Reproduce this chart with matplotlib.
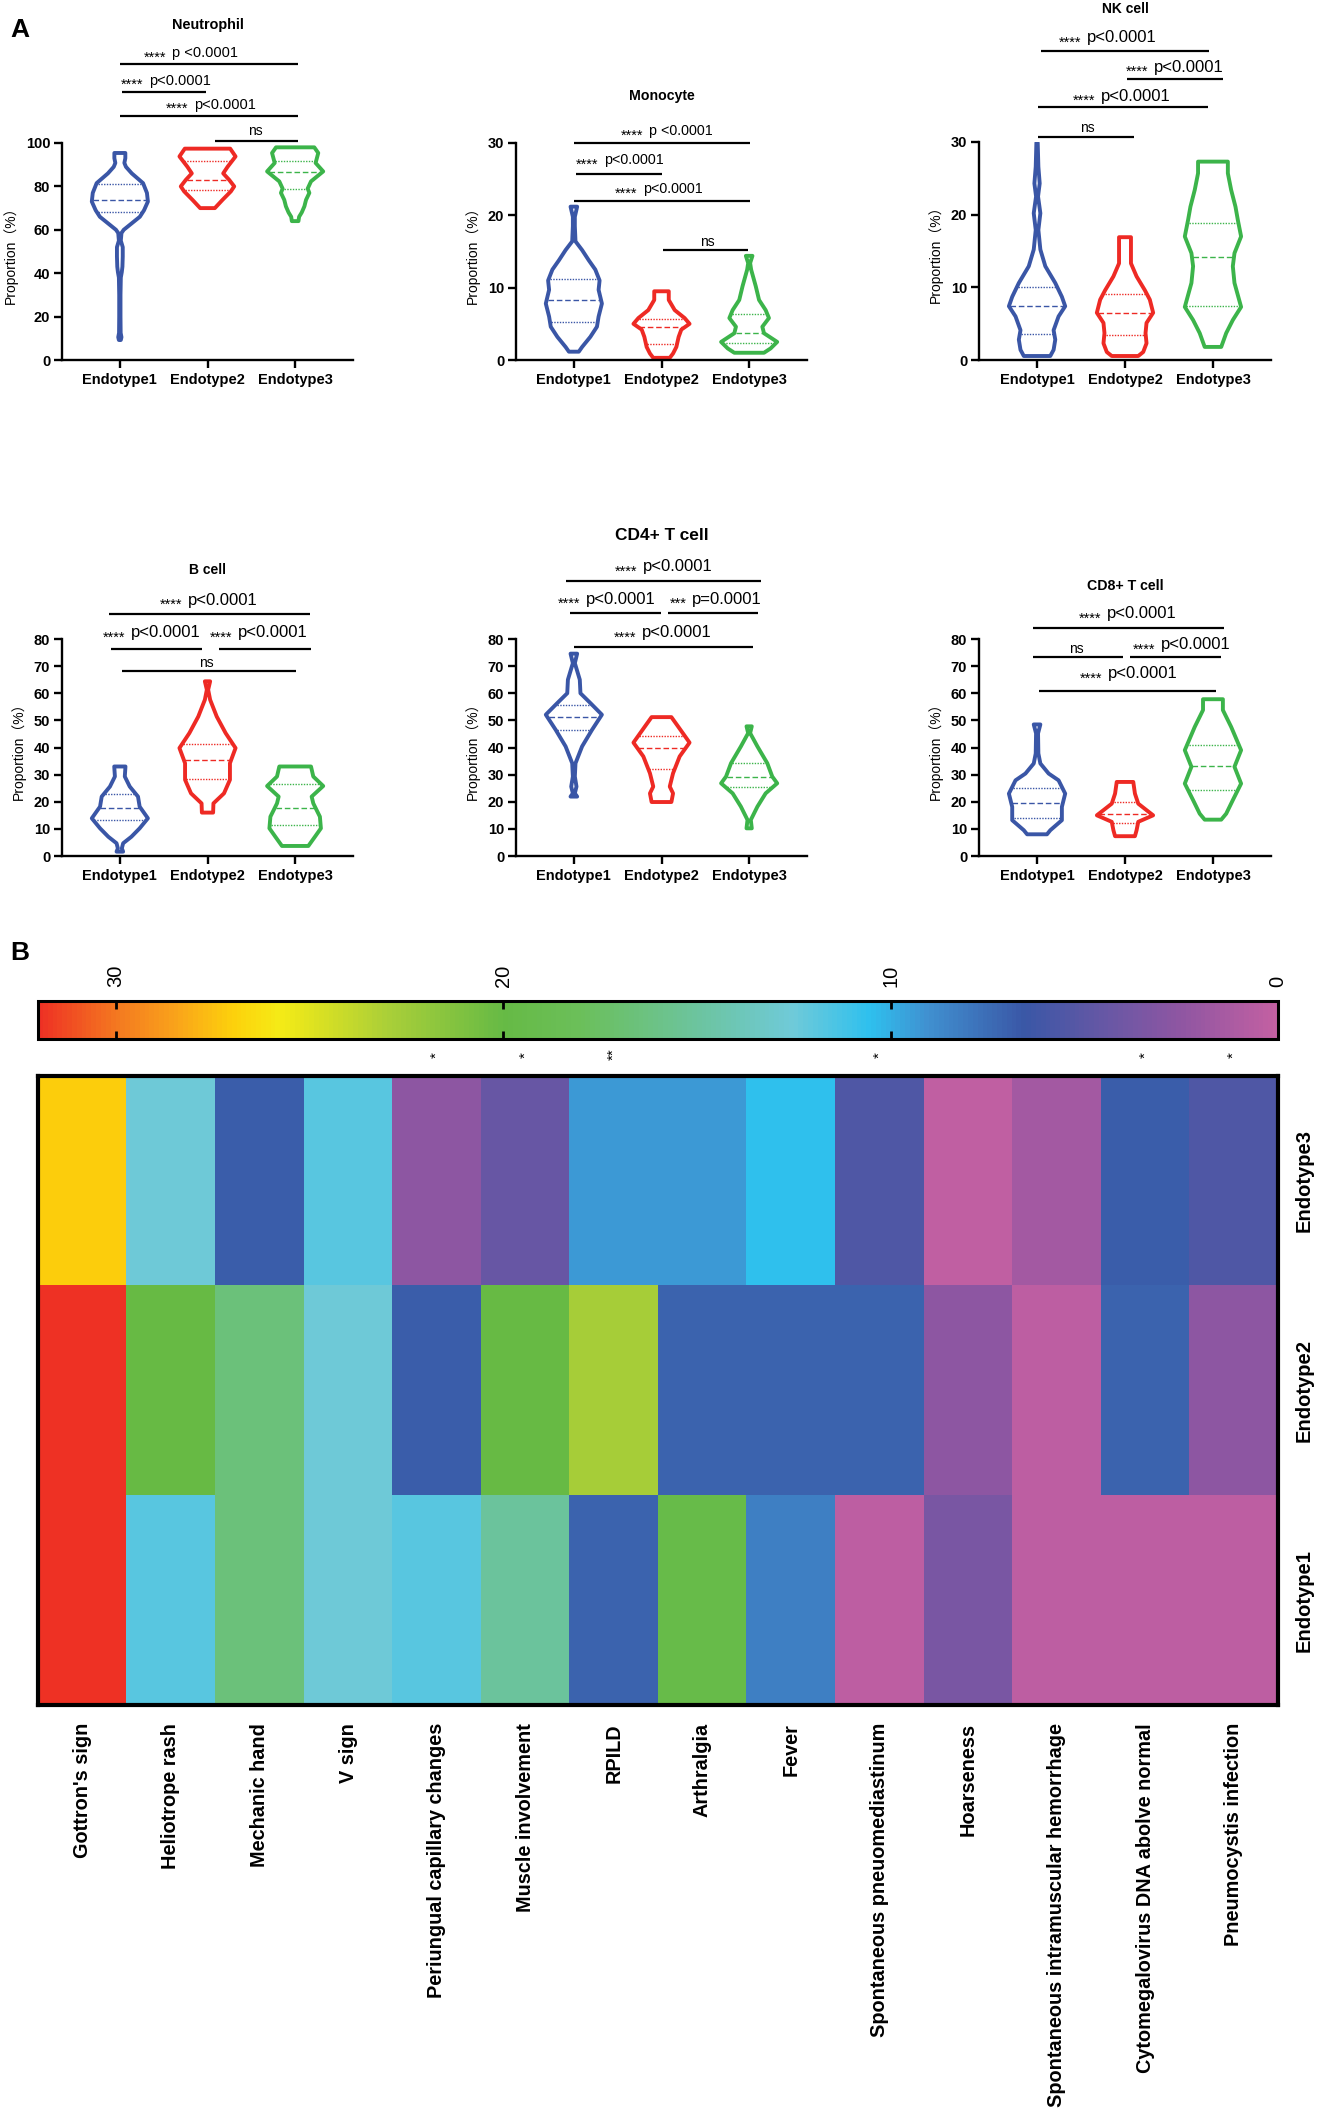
import numpy as np
import matplotlib
matplotlib.use('Agg')
import matplotlib.pyplot as plt
import matplotlib.transforms as mtransforms
from matplotlib.colors import LinearSegmentedColormap, Normalize
from matplotlib.cm import ScalarMappable

plt.rcParams['font.family'] = ['Liberation Sans', 'Noto Sans CJK SC', 'DejaVu Sans']

# ---------------------------------------------------------------- data
GROUPS = ['Endotype1', 'Endotype2', 'Endotype3']
COLORS = ['#3A56A6', '#EE2A24', '#3CB44A']

# violin profiles: y-levels and relative half-widths, per endotype
neut_levels = [[9.2, 10.5, 12.5, 20, 30, 38, 40.5, 43, 47.7, 52, 55, 58.5, 60, 63, 66, 69, 73, 77, 81.5, 86, 89, 90.8, 93, 95.4],
               [70, 73.8, 77.7, 80, 83, 86, 89, 93.8, 97.4],
               [64, 66, 68, 70.8, 73.8, 77, 79, 82.3, 86.9, 90.8, 95.4, 98]]
neut_widths = [[3, 5, 2.5, 2, 2, 3, 6, 8, 9, 9, 3, 5, 12, 37, 62, 75, 87, 84, 72, 37, 19, 14, 17, 17],
               [22, 45, 70, 80, 65, 47, 60, 84, 68],
               [10, 12, 20, 28, 33, 43, 38, 48, 85, 62, 70, 58]]
neut_quart = [[68.2, 73.8, 81.2], [78.3, 83.0, 91.8], [79.0, 86.6, 91.8]]

mono_levels = [[1.15, 1.8, 3.2, 4.6, 6.0, 7.8, 9.7, 11.0, 12.5, 13.8, 15.2, 16.4, 18.5, 19.8, 21.2],
               [0.3, 0.9, 1.8, 3.2, 4.2, 5.0, 5.8, 6.9, 8.3, 9.5],
               [1.0, 1.6, 2.5, 3.7, 4.6, 5.8, 6.9, 8.3, 10.2, 12.5, 13.4, 14.4]]
mono_widths = [[15, 25, 50, 70, 75, 85, 75, 78, 65, 45, 25, 5, 3, 3, 10],
               [25, 35, 45, 52, 60, 85, 70, 40, 22, 22],
               [45, 65, 85, 45, 40, 60, 50, 30, 20, 6, 3, 10]]
mono_quart = [[5.2, 8.3, 11.2], [2.2, 4.6, 5.7], [2.4, 3.8, 6.4]]

nk_levels = [[0.55, 1.4, 2.8, 4.1, 6.0, 7.4, 8.7, 10.6, 12.9, 15.2, 17.9, 20.2, 22.5, 24.3, 26.6, 29.9],
             [0.55, 1.1, 2.3, 3.7, 5.1, 6.5, 8.3, 9.6, 11.5, 13.3, 15.6, 16.9],
             [1.8, 3.7, 5.5, 7.3, 10.6, 12.9, 14.7, 17.0, 19.3, 21.1, 23.4, 25.7, 27.3]]
nk_widths = [[40, 50, 55, 50, 65, 85, 75, 55, 25, 10, 4, 10, 3, 8, 4, 2],
             [40, 55, 65, 62, 65, 85, 75, 60, 35, 18, 18, 18],
             [25, 40, 60, 85, 65, 60, 65, 85, 75, 68, 55, 45, 45]]
nk_quart = [[3.6, 7.4, 10.0], [3.5, 6.5, 9.1], [7.4, 14.2, 18.9]]

b_levels = [[1.6, 2.8, 4.7, 7.1, 10.2, 13.9, 18.2, 21.9, 25.6, 29.3, 33],
            [16, 19.4, 23.1, 28.1, 34.2, 39.8, 45.3, 51.4, 57.6, 61.3, 64.4],
            [3.7, 7.1, 10.2, 14.5, 19.4, 21.9, 25.8, 29.3, 33]]
b_widths = [[10, 6, 10, 35, 60, 85, 60, 55, 30, 15, 17],
            [17, 18, 50, 68, 68, 85, 55, 28, 8, 2, 8],
            [40, 60, 78, 75, 55, 50, 85, 55, 48]]
b_quart = [[13.3, 17.6, 22.9], [28.3, 35.4, 41.2], [11.4, 17.6, 26.5]]

cd4_levels = [[21.9, 23.1, 25.6, 29.3, 34.2, 40.4, 46.5, 52.1, 56.4, 60, 65, 71.1, 74.6],
              [19.9, 23.1, 25.6, 30.5, 36.7, 41.8, 47.8, 51.2],
              [10.2, 13.3, 18.2, 23.1, 26.8, 29.3, 34.2, 40.4, 45.3, 47.8]]
cd4_widths = [[10, 3, 8, 3, 5, 25, 55, 85, 50, 20, 18, 3, 10],
              [30, 35, 25, 35, 55, 85, 50, 30],
              [8, 5, 25, 50, 85, 70, 55, 25, 3, 8]]
cd4_quart = [[46.3, 51.2, 55.8], [32.2, 40.0, 44.1], [25.4, 29.0, 34.2]]

cd8_levels = [[8, 9.5, 13.2, 18.1, 23, 27.9, 30.4, 34.1, 37.8, 45.2, 48.5],
              [7.3, 9.5, 12.6, 15, 16.9, 19.3, 23, 27.3],
              [13.4, 15.6, 20.6, 26.7, 32.9, 39, 47.6, 53.8, 57.8]]
cd8_widths = [[30, 40, 75, 75, 85, 65, 35, 10, 4, 3, 10],
              [30, 35, 40, 85, 65, 40, 30, 25],
              [25, 40, 60, 85, 65, 85, 55, 30, 30]]
cd8_quart = [[14.0, 19.7, 24.9], [12.2, 15.3, 19.9], [24.5, 33.2, 41.1]]

# significance labels (stars, p text) per comparison
neut_sig = [('****', 'p <0.0001'), ('****', 'p<0.0001'), ('****', 'p<0.0001'), ('ns', '')]
mono_sig = [('****', 'p <0.0001'), ('****', 'p<0.0001'), ('****', 'p<0.0001'), ('ns', '')]
nk_sig = [('****', 'p<0.0001'), ('****', 'p<0.0001'), ('****', 'p<0.0001'), ('ns', '')]
b_sig = [('****', 'p<0.0001'), ('****', 'p<0.0001'), ('****', 'p<0.0001'), ('ns', '')]
cd4_sig = [('****', 'p<0.0001'), ('****', 'p<0.0001'), ('***', 'p=0.0001'), ('****', 'p<0.0001')]
cd8_sig = [('****', 'p<0.0001'), ('ns', ''), ('****', 'p<0.0001'), ('****', 'p<0.0001')]

# heatmap
FEATURES = ["Gottron's sign", 'Heliotrope rash', 'Mechanic hand', 'V sign',
            'Periungual capillary changes', 'Muscle involvement', 'RPILD',
            'Arthralgia', 'Fever', 'Spontaneous pneuomediastinum', 'Hoarseness',
            'Spontaneous intramuscular hemorrhage', 'Cytomegalovirus DNA abolve normal',
            'Pneumocystis infection']
ENDO3 = [27.0, 12.6, 6.8, 11.8, 2.5, 4.4, 9.3, 9.3, 10.5, 5.5, 0.2, 1.5, 6.8, 5.5]
ENDO2 = [32.0, 20.0, 16.5, 12.6, 6.8, 20.0, 22.8, 7.0, 7.0, 7.0, 2.5, 0.3, 7.0, 2.5]
ENDO1 = [32.0, 11.8, 16.5, 12.6, 11.8, 15.0, 7.0, 19.5, 8.3, 0.3, 3.5, 0.3, 0.3, 0.3]
ROW_LABELS = ['Endotype3', 'Endotype2', 'Endotype1']
FEATURE_SIG = ['', '', '', '', '*', '*', '**', '', '', '*', '', '', '*', '*']
CBAR_TICKS = [0, 10, 20, 30]
CMAP_STOPS = [(0.0, '#C360A2'), (2.5, '#8E56A2'), (4.5, '#6557A5'), (6.5, '#3A57A6'),
              (9.0, '#4090D0'), (10.5, '#2EC0EE'), (12.5, '#6FCAD9'), (15.0, '#6CC49E'),
              (18.0, '#6BBF5A'), (20.0, '#66BA45'), (23.0, '#AACF38'), (25.8, '#F5EB16'),
              (27.0, '#FDD10C'), (28.6, '#F9A01B'), (30.0, '#F47920'), (32.0, '#EE3124')]
VMAX = 32.0

# ---------------------------------------------------------------- layout
W, H = 1321, 2126
fig = plt.figure(figsize=(W / 100, H / 100), dpi=100)
VW = 0.64


def add_px_axes(l, t, r, b):
    return fig.add_axes([l / W, 1 - b / H, (r - l) / W, (b - t) / H])


def violin_panel(box, title, title_y, title_fs, ymax, ystep, levels, widths, quarts,
                 sig, brackets, pfs):
    ax = add_px_axes(*box)
    stats = []
    for lv, wd, q in zip(levels, widths, quarts):
        stats.append(dict(coords=np.array(lv, float), vals=np.array(wd, float),
                          mean=q[1], median=q[1], min=lv[0], max=lv[-1]))
    parts = ax.violin(stats, positions=[0, 1, 2], widths=VW, showextrema=False)
    for body, c in zip(parts['bodies'], COLORS):
        body.set_alpha(1)
        body.set_facecolor('none')
        body.set_edgecolor(c)
        body.set_linewidth(2.8)
        body.set_joinstyle('round')
    for i, (lv, wd, q) in enumerate(zip(levels, widths, quarts)):
        wd = np.array(wd, float)
        for k, qq in enumerate(q):
            half = 0.5 * VW * np.interp(qq, lv, wd) / wd.max() - 0.015
            ax.hlines(qq, i - half, i + half, colors=COLORS[i],
                      linestyles=(0, (4, 2)) if k == 1 else (0, (1, 1)), lw=1.0)
    ax.set_xlim(-0.66, 2.66)
    ax.set_ylim(0, ymax)
    for s in ['top', 'right']:
        ax.spines[s].set_visible(False)
    for s in ['left', 'bottom']:
        ax.spines[s].set_linewidth(1.7)
    ax.set_yticks(np.arange(0, ymax + 0.1, ystep))
    ax.set_xticks([0, 1, 2], GROUPS)
    ax.tick_params(axis='both', length=5.5, width=1.7, labelsize=10.5)
    ax.tick_params(axis='y', pad=3)
    ax.tick_params(axis='x', pad=4)
    for lab in ax.get_xticklabels() + ax.get_yticklabels():
        lab.set_fontweight('bold')
    ax.set_ylabel('Proportion（%）', fontsize=10, labelpad=5.5)
    trans = mtransforms.blended_transform_factory(ax.transData, ax.transAxes)
    ax.text(1, title_y, title, transform=trans, ha='center', va='center',
            fontsize=title_fs, fontweight='bold')
    for (stars, ptxt), (x1, x2, y, ax_x, ty) in zip(sig, brackets):
        ax.plot([x1, x2], [y, y], color='black', lw=1.6, clip_on=False,
                solid_capstyle='butt')
        if ptxt:
            ax.annotate(stars, xy=(ax_x, ty), xytext=(-2, -3.2), textcoords='offset points',
                        ha='right', va='baseline', fontsize=10.5, annotation_clip=False)
            ax.annotate(ptxt, xy=(ax_x, ty), xytext=(2, 0), textcoords='offset points',
                        ha='left', va='baseline', fontsize=pfs, annotation_clip=False)
        else:
            ax.annotate(stars, xy=(ax_x, ty), ha='center', va='baseline',
                        fontsize=10, annotation_clip=False)
    return ax


# bracket layout: (x1, x2, y_line, text_anchor_x, text_baseline_y)
violin_panel((62, 143, 353, 360), 'Neutrophil', 1.544, 10.4, 100, 20,
             neut_levels, neut_widths, neut_quart, neut_sig,
             [(0, 2.03, 136.6, 0.56, 139.7), (0.02, 0.98, 123.5, 0.30, 126.9),
              (0, 2.03, 112.3, 0.81, 115.8), (1.08, 2.03, 100.8, 1.55, 103.8)], 10.5)
violin_panel((516, 143, 807, 360), 'Monocyte', 1.217, 10.2, 30, 10,
             mono_levels, mono_widths, mono_quart, mono_sig,
             [(0, 2.01, 30.0, 0.82, 31.1), (0.02, 1.0, 25.75, 0.31, 27.1),
              (0, 2.01, 22.0, 0.76, 23.1), (1.02, 1.99, 15.2, 1.52, 15.8)], 10.3)
violin_panel((979, 142, 1271, 360), 'NK cell', 1.608, 10.0, 30, 10,
             nk_levels, nk_widths, nk_quart, nk_sig,
             [(0.05, 1.96, 42.5, 0.54, 43.7), (1.02, 2.11, 38.7, 1.30, 39.7),
              (0.01, 1.94, 34.8, 0.69, 35.7), (0.01, 1.10, 30.7, 0.57, 31.4)], 12)
violin_panel((62, 639, 353, 856), 'B cell', 1.318, 10.0, 80, 10,
             b_levels, b_widths, b_quart, b_sig,
             [(-0.12, 2.17, 89.4, 0.75, 92.7), (-0.10, 0.94, 76.4, 0.09, 80.7),
              (1.13, 2.18, 76.4, 1.31, 80.7), (0.02, 2.01, 68.1, 0.99, 69.7)], 12)
violin_panel((516, 639, 807, 856), 'CD4+ T cell', 1.475, 12.4, 80, 10,
             cd4_levels, cd4_widths, cd4_quart, cd4_sig,
             [(-0.09, 2.14, 101.2, 0.76, 105.0), (-0.04, 0.99, 89.6, 0.11, 93.0),
              (1.07, 2.10, 89.6, 1.32, 93.0), (0, 2.04, 76.9, 0.75, 80.7)], 12)
violin_panel((979, 639, 1271, 856), 'CD8+ T cell', 1.244, 10.2, 80, 10,
             cd8_levels, cd8_widths, cd8_quart, cd8_sig,
             [(-0.05, 2.13, 84.1, 0.76, 87.6), (-0.05, 0.98, 73.2, 0.45, 74.7),
              (1.06, 2.09, 73.2, 1.375, 76.2), (0.02, 2.03, 60.9, 0.77, 65.5)], 12)

fig.text(20 / W, 1 - 30 / H, 'A', fontsize=19, fontweight='bold', ha='center', va='center')
fig.text(20 / W, 1 - 953 / H, 'B', fontsize=19, fontweight='bold', ha='center', va='center')

# ---------------------------------------------------------------- heatmap
cmap = LinearSegmentedColormap.from_list('endo', [(v / VMAX, c) for v, c in CMAP_STOPS])
norm = Normalize(vmin=0, vmax=VMAX)

axh = add_px_axes(38, 1076, 1278, 1705)
mat = np.array([ENDO3, ENDO2, ENDO1])
axh.imshow(mat, cmap=cmap, norm=norm, aspect='auto', interpolation='nearest')
axh.set_xticks(range(len(FEATURES)), FEATURES, rotation=90, va='top', ha='center',
               fontsize=14.3, fontweight='bold')
axh.tick_params(axis='x', length=0, pad=13)
axh.yaxis.tick_right()
axh.set_yticks(range(3), ROW_LABELS, rotation=90, va='center', fontsize=14.5,
               fontweight='bold')
axh.tick_params(axis='y', length=0, pad=12)
for s in axh.spines.values():
    s.set_linewidth(3.0)
transh = mtransforms.blended_transform_factory(axh.transData, axh.transAxes)
for i, mark in enumerate(FEATURE_SIG):
    if mark:
        axh.text(i, 1.034, mark, transform=transh, rotation=90, ha='center',
                 va='center', fontsize=11)

cax = add_px_axes(38, 1001, 1278, 1039)
cb = fig.colorbar(ScalarMappable(norm=norm, cmap=cmap), cax=cax, orientation='horizontal',
                  ticks=CBAR_TICKS)
cax.invert_xaxis()
cax.xaxis.set_ticks_position('both')
cax.tick_params(axis='x', which='major', top=True, bottom=True, labeltop=True,
                labelbottom=False, direction='in', length=6, width=2,
                labelrotation=90, labelsize=14.5, pad=10)
cax.minorticks_off()
cb.outline.set_linewidth(2.2)

fig.savefig('out.png', dpi=100)
